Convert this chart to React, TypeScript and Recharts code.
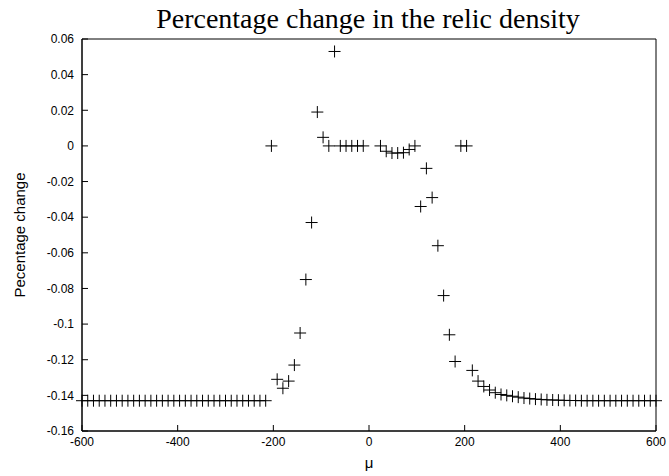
import { ScatterChart, Scatter, XAxis, YAxis, ReferenceArea } from 'recharts';

// mu grid (step 12)
const muValues = [
  -600, -588, -576, -564, -552, -540, -528, -516, -504, -492, -480, -468, -456, -444, -432, -420, -408,
  -396, -384, -372, -360, -348, -336, -324, -312, -300, -288, -276, -264, -252, -240, -228, -216,
  -204, -192, -180, -168, -156, -144, -132, -120, -108, -96, -84, -72, -60, -48, -36, -24, -12,
  24, 36, 48, 60, 72, 84, 96, 108, 120, 132, 144, 156, 168, 180, 192, 204,
  216, 228, 240, 252, 264, 276, 288, 300, 312, 324, 336, 348, 360, 372, 384, 396, 408,
  420, 432, 444, 456, 468, 480, 492, 504, 516, 528, 540, 552, 564, 576, 588, 600,
];

const relicChange = [
  -0.143, -0.143, -0.143, -0.143, -0.143, -0.143, -0.143, -0.143, -0.143, -0.143, -0.143, -0.143, -0.143, -0.143, -0.143, -0.143, -0.143,
  -0.143, -0.143, -0.143, -0.143, -0.143, -0.143, -0.143, -0.143, -0.143, -0.143, -0.143, -0.143, -0.143, -0.143, -0.143, -0.143,
  0, -0.131, -0.136, -0.132, -0.123, -0.105, -0.075, -0.043, 0.019, 0.0048, 0, 0.053, 0, 0, 0, 0, 0,
  0, -0.003, -0.004, -0.004, -0.0038, -0.002, 0, -0.034, -0.0126, -0.029, -0.056, -0.084, -0.106, -0.121, 0, 0,
  -0.126, -0.132, -0.135, -0.137, -0.1385, -0.1395, -0.14, -0.1405, -0.141, -0.1415, -0.1418, -0.1421, -0.1423, -0.1425, -0.1426, -0.1427, -0.1428,
  -0.1429, -0.1429, -0.143, -0.143, -0.143, -0.143, -0.143, -0.143, -0.143, -0.143, -0.143, -0.143, -0.143, -0.143, -0.143, -0.143, -0.1422,
];

const xTicks = [-600, -400, -200, 0, 200, 400, 600];
const yTicks = [0.06, 0.04, 0.02, 0, -0.02, -0.04, -0.06, -0.08, -0.1, -0.12, -0.14, -0.16];

const points = muValues.map((mu, i) => ({ mu, change: relicChange[i] }));

const SANS = '"Liberation Sans", Arial, sans-serif';
const SERIF = '"Liberation Serif", "Times New Roman", serif';

function Cross({ cx, cy }: { cx?: number; cy?: number }) {
  if (cx == null || cy == null) return null;
  return <path d={`M${cx - 6},${cy}h12M${cx},${cy - 6}v12`} stroke="#000" strokeWidth={1} fill="none" />;
}

const Nothing = () => <g />;

const fmt = (v: number) => `${+v.toFixed(2)}`;
const blank = () => '';

export default function App() {
  return (
    <div style={{ position: 'absolute', left: 0, top: 0, width: 669, height: 476, background: '#fff' }}>
      <ScatterChart width={669} height={476} margin={{ top: 39, right: 13, bottom: 0, left: 22 }}>
        <XAxis
          xAxisId="b"
          dataKey="mu"
          type="number"
          domain={[-600, 600]}
          ticks={xTicks}
          interval={0}
          height={45}
          stroke="#000"
          tickSize={-6}
          tickMargin={12}
          tick={{ fill: '#000', fontSize: 12, fontFamily: SANS }}
        />
        <XAxis
          xAxisId="t"
          dataKey="mu"
          orientation="top"
          type="number"
          domain={[-600, 600]}
          ticks={xTicks}
          interval={0}
          height={0}
          stroke="#000"
          tickSize={-6}
          tickFormatter={blank}
        />
        <YAxis
          yAxisId="l"
          dataKey="change"
          type="number"
          domain={[-0.16, 0.06]}
          ticks={yTicks}
          interval={0}
          width={60}
          stroke="#000"
          tickSize={-6}
          tickMargin={14}
          tickFormatter={fmt}
          tick={{ fill: '#000', fontSize: 12, fontFamily: SANS }}
        />
        <YAxis
          yAxisId="r"
          dataKey="change"
          orientation="right"
          type="number"
          domain={[-0.16, 0.06]}
          ticks={yTicks}
          interval={0}
          width={0}
          stroke="#000"
          tickSize={-6}
          tickFormatter={blank}
        />
        <ReferenceArea
          xAxisId="b"
          yAxisId="l"
          x1={-600}
          x2={600}
          y1={-0.16}
          y2={0.06}
          fill="none"
          stroke="#000"
          strokeWidth={1}
          fillOpacity={0}
          ifOverflow="visible"
        />
        <Scatter data={points} xAxisId="t" yAxisId="r" dataKey="change" shape={<Nothing />} isAnimationActive={false} />
        <Scatter data={points} xAxisId="b" yAxisId="l" dataKey="change" shape={<Cross />} isAnimationActive={false} />
      </ScatterChart>
      <svg width={669} height={476} style={{ position: 'absolute', left: 0, top: 0, pointerEvents: 'none' }}>
        <text x={368} y={28} textAnchor="middle" fontFamily={SERIF} fontSize={28} fill="#000">
          Percentage change in the relic density
        </text>
        <text transform="translate(25,235) rotate(-90)" textAnchor="middle" fontFamily={SANS} fontSize={15} fill="#000">
          Pecentage change
        </text>
        <text x={369} y={468} textAnchor="middle" fontFamily={SANS} fontSize={15} fill="#000">
          μ
        </text>
      </svg>
    </div>
  );
}
